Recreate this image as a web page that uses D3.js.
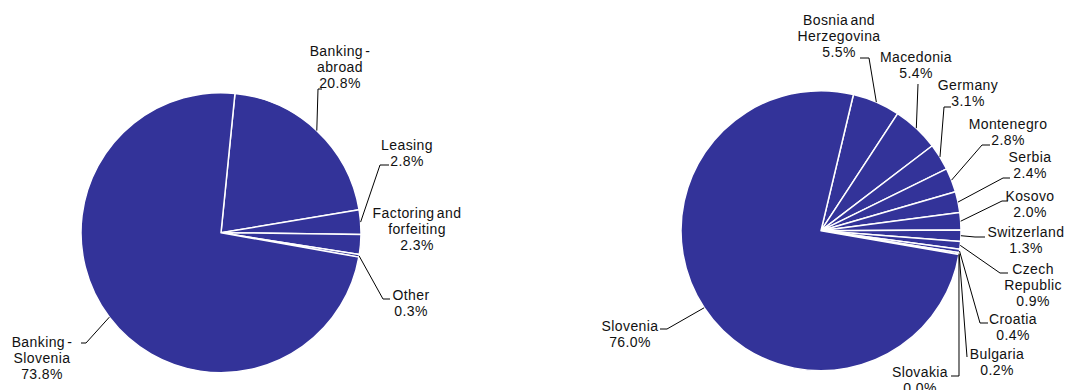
<!DOCTYPE html>
<html>
<head>
<meta charset="utf-8">
<script src="https://cdn.jsdelivr.net/npm/d3@7"></script>
<style>
  html, body { margin: 0; padding: 0; background: #fff; }
  svg { display: block; }
  text { font-family: "Liberation Sans", Arial, sans-serif; font-size: 14px; fill: #111; letter-spacing: 0.4px; word-spacing: -2px; }
</style>
</head>
<body>
<svg id="chart" width="1066" height="390"></svg>
<script>
// Structure of activities (left) and of operations by country (right), shares in %
const leftCategories = ["Banking -\nabroad", "Leasing", "Factoring and\nforfeiting", "Other", "Banking -\nSlovenia"];
const leftValues = [20.8, 2.8, 2.3, 0.3, 73.8];

const rightCategories = ["Bosnia and\nHerzegovina", "Macedonia", "Germany", "Montenegro", "Serbia", "Kosovo",
  "Switzerland", "Czech\nRepublic", "Croatia", "Bulgaria", "Slovakia", "Slovenia"];
const rightValues = [5.5, 5.4, 3.1, 2.8, 2.4, 2.0, 1.3, 0.9, 0.4, 0.2, 0.0, 76.0];

// Label placement: text centre x, first baseline y, and leader elbow / end points
const leftLayout = [
  { x: 340, y: 56, elbow: [318, 89], end: [322, 89] },
  { x: 407, y: 150, elbow: [380, 165], end: [389, 165] },
  { x: 417, y: 218, elbow: null, end: null },
  { x: 411, y: 300, elbow: [383, 299], end: [390, 299] },
  { x: 42, y: 347, elbow: [86, 343], end: [81, 343] }
];
const rightLayout = [
  { x: 839, y: 25, elbow: [869, 58], end: [860, 58] },
  { x: 916, y: 62, elbow: [918, 84], end: [918, 84] },
  { x: 968, y: 90, elbow: [944, 107], end: [951, 107] },
  { x: 1008, y: 129, elbow: [982, 145], end: [990, 145] },
  { x: 1030, y: 162, elbow: [1003, 178], end: [1010, 178] },
  { x: 1030, y: 201, elbow: [1002, 201], end: [1008, 201] },
  { x: 1026, y: 237, elbow: [975, 237], end: [985, 237] },
  { x: 1033, y: 274, elbow: [1000, 273], end: [1008, 273] },
  { x: 1013, y: 324, elbow: [980, 323], end: [988, 323] },
  { x: 997, y: 359, elbow: [967, 357], end: [967, 357] },
  { x: 920, y: 377, elbow: [959, 376], end: [951, 376] },
  { x: 630, y: 331, elbow: [667, 329], end: [660, 329] }
];

const svg = d3.select("#chart");
const fmt = d3.format(".1f");
const lineHeight = 16;

function drawPie(cx, cy, r, startDeg, categories, values, layout) {
  const a0 = startDeg * Math.PI / 180;
  const pie = d3.pie().sort(null).startAngle(a0).endAngle(a0 + 2 * Math.PI);
  const arcs = pie(values);
  const arc = d3.arc().innerRadius(0).outerRadius(r);
  const rim = d3.arc().innerRadius(r).outerRadius(r);

  const g = svg.append("g").attr("transform", `translate(${cx},${cy})`);
  g.selectAll("path.slice")
    .data(arcs)
    .join("path")
    .attr("class", "slice")
    .attr("d", arc)
    .attr("fill", "#333399")
    .attr("stroke", "#fff")
    .attr("stroke-width", 1.5)
    .attr("stroke-linejoin", "round");

  // leader lines from slice rim to the label
  arcs.forEach((d, i) => {
    const L = layout[i];
    if (!L.elbow) return;
    const p = rim.centroid(d);
    const pts = [[cx + p[0], cy + p[1]], L.elbow, L.end];
    svg.append("path")
      .attr("d", d3.line()(pts))
      .attr("fill", "none")
      .attr("stroke", "#000")
      .attr("stroke-width", 1);
  });

  // labels: category lines followed by the share
  arcs.forEach((d, i) => {
    const L = layout[i];
    const lines = categories[i].split("\n").concat([fmt(values[i]) + "%"]);
    const t = svg.append("text").attr("text-anchor", "middle");
    lines.forEach((s, k) => {
      t.append("tspan").attr("x", L.x).attr("y", L.y + k * lineHeight).text(s);
    });
  });
}

drawPie(221, 232.7, 140, 5.73, leftCategories, leftValues, leftLayout);
drawPie(821, 230.7, 140, 13.39, rightCategories, rightValues, rightLayout);
</script>
</body>
</html>
